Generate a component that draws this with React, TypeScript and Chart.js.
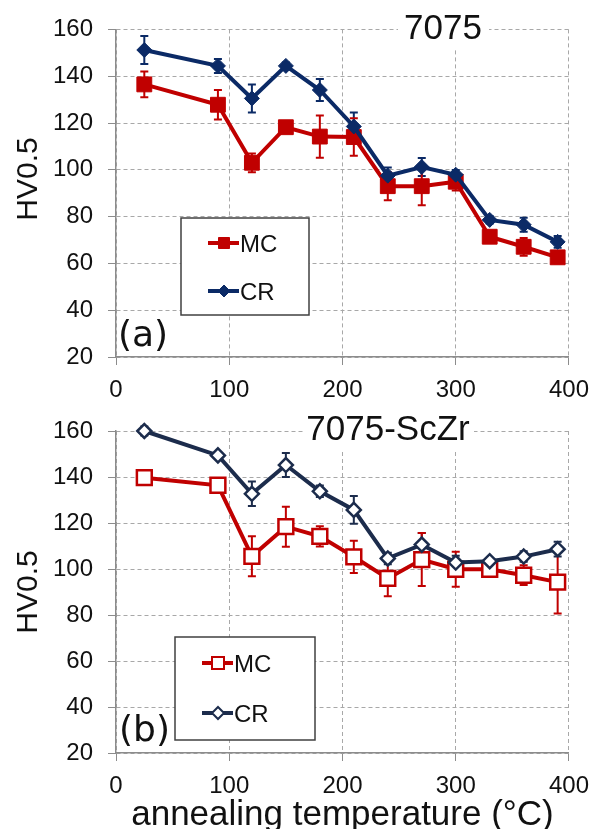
import React, { useEffect, useRef } from "react";
import { Chart, registerables } from "chart.js";

Chart.register(...registerables);

// ---------- data ----------
const temps = [25, 90, 120, 150, 180, 210, 240, 270, 300, 330, 360, 390];

const mc7075 = [136.5, 127.8, 103, 118.2, 114.2, 114, 93, 93, 94.9, 71.4, 67.1, 62.6];
const mc7075Err = [5.5, 6.3, 4, 1, 9, 8, 6, 8.2, 3.7, 1.5, 3.8, 2.5];
const cr7075 = [151.2, 144.4, 130.5, 144.4, 134.1, 118.5, 97.5, 101.2, 97.9, 78.6, 76.5, 69.2];
const cr7075Err = [6, 3, 6, 1.5, 4.7, 6, 3.5, 3.8, 2, 1.5, 3, 2.5];

const mcScZr = [139.7, 136.4, 105.5, 118.4, 114.2, 105.3, 95.9, 104.1, 99.9, 99.9, 97.3, 94.3];
const mcScZrErr = [1, 1, 8.7, 8.7, 4.4, 7, 7.8, 11.5, 7.6, 1.5, 4.3, 13.6];
const crScZr = [160, 149.4, 132.7, 145.2, 133.8, 125.7, 104.6, 110.6, 102.8, 103.4, 105.4, 108.6];
const crScZrErr = [2, 1, 5.3, 5.2, 2.5, 6, 2.5, 5.1, 3, 1, 2.3, 3.2];

const xTicks = [0, 100, 200, 300, 400];
const yTicks = [20, 40, 60, 80, 100, 120, 140, 160];

const seriesNames = ["MC", "CR"];
const panelTitles = ["7075", "7075-ScZr"];
const panelLabels = ["(a)", "(b)"];
const yTitle = "HV0.5";
const xTitle = "annealing temperature (\u00B0C)";

// ---------- styles ----------
const RED = "#c00000";
const NAVY_A = "#0b2a66";
const NAVY_B = "#1c2c4c";
const FONT = "'Liberation Sans', Arial, sans-serif";
const GRID = "#a8a8a8";
const AXIS = "#8c8c8c";

type Series = {
  name: string;
  values: number[];
  errors: number[];
  color: string;
  filled: boolean;
  style: "rect" | "rectRot";
  radius: number;
};

type Panel = {
  height: number;
  topPad: number;
  xAxisH: number;
  title: string;
  titleCx: number;
  titleBase: number;
  titleRect: [number, number, number, number];
  label: string;
  labelX: number;
  labelBase: number;
  legendBox: [number, number, number, number];
  legendRows: [number, number];
  yTitleCy: number;
  showXTitle: boolean;
  xTitleBase: number;
  series: Series[];
};

const panels: Panel[] = [
  {
    height: 400,
    topPad: 22,
    xAxisH: 43,
    title: panelTitles[0],
    titleCx: 443,
    titleBase: 39,
    titleRect: [398, 0, 91, 50],
    label: panelLabels[0],
    labelX: 118,
    labelBase: 346,
    legendBox: [181, 218, 128, 97],
    legendRows: [243, 291],
    yTitleCy: 179,
    showXTitle: false,
    xTitleBase: 0,
    series: [
      { name: seriesNames[1], values: cr7075, errors: cr7075Err, color: NAVY_A, filled: true, style: "rectRot", radius: 7.5 },
      { name: seriesNames[0], values: mc7075, errors: mc7075Err, color: RED, filled: true, style: "rect", radius: 10.5 },
    ],
  },
  {
    height: 429,
    topPad: 31,
    xAxisH: 76,
    title: panelTitles[1],
    titleCx: 388,
    titleBase: 40,
    titleRect: [304, 0, 170, 50],
    label: panelLabels[1],
    labelX: 119,
    labelBase: 341,
    legendBox: [175, 237, 140, 103],
    legendRows: [263, 313],
    yTitleCy: 192,
    showXTitle: true,
    xTitleBase: 425,
    series: [
      { name: seriesNames[1], values: crScZr, errors: crScZrErr, color: NAVY_B, filled: false, style: "rectRot", radius: 7 },
      { name: seriesNames[0], values: mcScZr, errors: mcScZrErr, color: RED, filled: false, style: "rect", radius: 10.5 },
    ],
  },
];

function drawMarker(ctx: CanvasRenderingContext2D, s: Series, x: number, y: number, size: number) {
  ctx.save();
  ctx.beginPath();
  if (s.style === "rect") {
    ctx.rect(x - size, y - size, size * 2, size * 2);
  } else {
    ctx.moveTo(x, y - size);
    ctx.lineTo(x + size, y);
    ctx.lineTo(x, y + size);
    ctx.lineTo(x - size, y);
    ctx.closePath();
  }
  ctx.fillStyle = s.filled ? s.color : "#ffffff";
  ctx.fill();
  ctx.lineWidth = s.filled ? 1 : 2;
  ctx.strokeStyle = s.color;
  ctx.stroke();
  ctx.restore();
}

function PanelChart({ panel }: { panel: Panel }) {
  const ref = useRef<HTMLCanvasElement | null>(null);
  useEffect(() => {
    if (!ref.current) return;
    const p = panel;
    const byName = (n: string) => p.series.find((s) => s.name === n)!;

    const errorBars = {
      id: "errorBars",
      beforeDatasetsDraw(chart: any) {
        const { ctx, scales } = chart;
        const xs = scales.x;
        const ys = scales.y;
        chart.data.datasets.forEach((ds: any) => {
          const errs: number[] = ds.errors;
          if (!errs) return;
          ctx.save();
          ctx.strokeStyle = ds.borderColor;
          ctx.lineWidth = 2;
          ds.data.forEach((pt: any, i: number) => {
            const px = xs.getPixelForValue(pt.x);
            const t = ys.getPixelForValue(pt.y + errs[i]);
            const b = ys.getPixelForValue(pt.y - errs[i]);
            ctx.beginPath();
            ctx.moveTo(px, t);
            ctx.lineTo(px, b);
            ctx.moveTo(px - 4, t);
            ctx.lineTo(px + 4, t);
            ctx.moveTo(px - 4, b);
            ctx.lineTo(px + 4, b);
            ctx.stroke();
          });
          ctx.restore();
        });
      },
    };

    const decor = {
      id: "decor",
      beforeDatasetsDraw(chart: any) {
        const ctx: CanvasRenderingContext2D = chart.ctx;
        ctx.save();
        const [rx, ry, rw, rh] = p.titleRect;
        ctx.fillStyle = "#ffffff";
        ctx.fillRect(rx, ry, rw, rh);
        ctx.fillStyle = "#111111";
        ctx.font = `35px ${FONT}`;
        ctx.textAlign = "center";
        ctx.textBaseline = "alphabetic";
        ctx.fillText(p.title, p.titleCx, p.titleBase);
        ctx.restore();
      },
      afterDraw(chart: any) {
        const ctx: CanvasRenderingContext2D = chart.ctx;
        ctx.save();
        // legend
        const [bx, by, bw, bh] = p.legendBox;
        ctx.fillStyle = "#ffffff";
        ctx.fillRect(bx, by, bw, bh);
        ctx.strokeStyle = "#404040";
        ctx.lineWidth = 1.5;
        ctx.strokeRect(bx, by, bw, bh);
        [seriesNames[0], seriesNames[1]].forEach((n, i) => {
          const s = byName(n);
          const yy = p.legendRows[i];
          ctx.strokeStyle = s.color;
          ctx.lineWidth = 4;
          ctx.beginPath();
          ctx.moveTo(bx + 27, yy);
          ctx.lineTo(bx + 58, yy);
          ctx.stroke();
          drawMarker(ctx, s, bx + 43, yy, s.style === "rect" ? (s.filled ? 5.5 : 6) : 6);
          ctx.fillStyle = "#111111";
          ctx.font = `24px ${FONT}`;
          ctx.textAlign = "left";
          ctx.textBaseline = "alphabetic";
          ctx.fillText(n, bx + 59, yy + 8.6);
        });
        // panel label
        ctx.fillStyle = "#111111";
        ctx.font = `36px 'DejaVu Sans', sans-serif`;
        ctx.textAlign = "left";
        ctx.textBaseline = "alphabetic";
        ctx.fillText(p.label, p.labelX, p.labelBase);
        // y title
        ctx.save();
        ctx.translate(37, p.yTitleCy);
        ctx.rotate(-Math.PI / 2);
        ctx.font = `30px ${FONT}`;
        ctx.textAlign = "center";
        ctx.fillText(yTitle, 0, 0);
        ctx.restore();
        // x title
        if (p.showXTitle) {
          const area = chart.chartArea;
          ctx.font = `35px ${FONT}`;
          ctx.textAlign = "center";
          ctx.fillText(xTitle, (area.left + area.right) / 2, p.xTitleBase);
        }
        ctx.restore();
      },
    };

    const datasets = p.series.map((s) => ({
      label: s.name,
      data: temps.map((t, i) => ({ x: t, y: s.values[i] })),
      errors: s.errors,
      borderColor: s.color,
      backgroundColor: s.color,
      borderWidth: 4,
      tension: 0,
      clip: false,
      pointStyle: s.style,
      pointRadius: s.radius,
      pointHoverRadius: s.radius,
      pointBackgroundColor: s.filled ? s.color : "#ffffff",
      pointBorderColor: s.color,
      pointBorderWidth: s.filled ? 1 : 2.5,
    }));

    const chart = new Chart(ref.current, {
      type: "line",
      data: { datasets: datasets as any },
      options: {
        animation: false,
        responsive: false,
        maintainAspectRatio: false,
        layout: { padding: { left: 0, right: 24, top: p.topPad, bottom: 0 } },
        plugins: { legend: { display: false }, tooltip: { enabled: false }, title: { display: false } },
        scales: {
          x: {
            type: "linear",
            min: 0,
            max: 400,
            afterBuildTicks: (s: any) => {
              s.ticks = xTicks.map((v) => ({ value: v }));
            },
            afterFit: (s: any) => {
              s.height = p.xAxisH;
            },
            ticks: {
              font: { family: FONT, size: 24 },
              color: "#111111",
              padding: 11,
              maxRotation: 0,
              autoSkip: false,
            },
            grid: { color: GRID, lineWidth: 1, tickLength: 8, tickColor: AXIS, drawTicks: true },
            border: { display: true, color: AXIS, width: 1.5, dash: [4, 3] },
          },
          y: {
            type: "linear",
            min: 20,
            max: 160,
            afterBuildTicks: (s: any) => {
              s.ticks = yTicks.map((v) => ({ value: v }));
            },
            afterFit: (s: any) => {
              s.width = 116;
            },
            ticks: {
              font: { family: FONT, size: 24 },
              color: "#111111",
              padding: 15,
              autoSkip: false,
            },
            grid: { color: GRID, lineWidth: 1, tickLength: 8, tickColor: AXIS, drawTicks: true },
            border: { display: true, color: AXIS, width: 1.5, dash: [4, 3] },
          },
        },
      } as any,
      plugins: [errorBars, decor],
    });
    return () => chart.destroy();
  }, [panel]);

  return <canvas ref={ref} width={600} height={panel.height} style={{ display: "block", width: 600, height: panel.height }} />;
}

export default function App() {
  return (
    <div style={{ position: "absolute", left: 0, top: 0, width: 600, height: 829, background: "#ffffff", overflow: "hidden" }}>
      <PanelChart panel={panels[0]} />
      <PanelChart panel={panels[1]} />
    </div>
  );
}
